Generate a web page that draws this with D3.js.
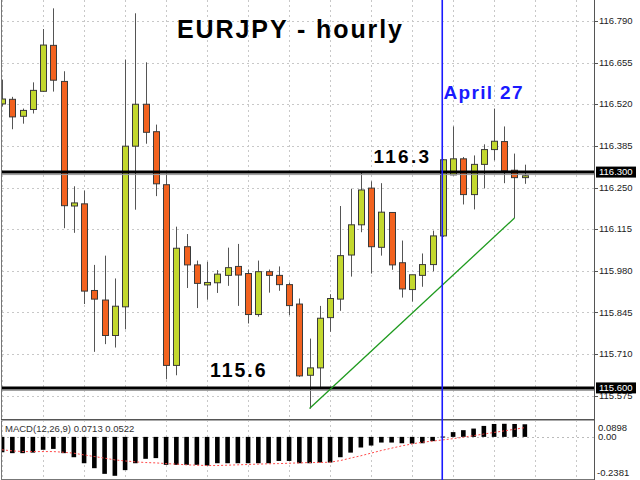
<!DOCTYPE html>
<html><head><meta charset="utf-8">
<script src="https://cdn.jsdelivr.net/npm/d3@7"></script>
<style>html,body{margin:0;padding:0;background:#fff;}svg{display:block;}</style>
</head><body>
<script>
// ---- data ----
const openP  = [116.521,116.536,116.481,116.503,116.562,116.711,116.594,116.190,116.197,115.916,115.885,115.770,115.863,116.384,116.520,116.431,116.259,115.673,116.058,115.999,115.934,115.941,115.965,115.994,115.971,115.838,115.977,115.965,115.935,115.872,115.641,115.665,115.828,115.888,116.031,116.129,116.248,116.056,116.169,116.006,115.919,115.965,116.000,116.093,116.291,116.343,116.227,116.325,116.373,116.399,116.306,116.282];
const highP  = [116.600,116.544,116.506,116.591,116.764,116.831,116.627,116.254,116.240,115.999,116.029,115.955,116.665,116.815,116.656,116.454,116.295,116.123,116.099,116.013,116.009,115.982,116.055,116.067,115.984,116.013,115.984,115.994,115.942,115.890,115.760,115.866,115.904,116.190,116.246,116.298,116.270,116.264,116.170,116.078,115.967,116.036,116.110,116.342,116.448,116.349,116.354,116.390,116.506,116.448,116.360,116.324];
const lowP   = [116.513,116.439,116.457,116.490,116.560,116.561,116.118,116.103,115.872,115.717,115.742,115.731,115.790,116.178,116.392,116.222,115.628,115.641,115.924,115.859,115.886,115.908,115.931,115.866,115.809,115.831,115.909,115.915,115.836,115.636,115.533,115.597,115.782,115.850,115.961,116.105,115.971,116.029,115.983,115.893,115.880,115.928,115.978,116.090,116.290,116.195,116.179,116.247,116.338,116.264,116.151,116.262];
const closeP = [116.537,116.479,116.500,116.565,116.712,116.598,116.191,116.200,115.914,115.888,115.770,115.865,116.384,116.520,116.429,116.262,115.673,116.053,115.999,115.939,115.942,115.969,115.990,115.966,115.838,115.977,115.965,115.935,115.867,115.639,115.665,115.826,115.890,116.029,116.129,116.242,116.058,116.170,115.999,115.921,115.967,116.000,116.093,116.340,116.343,116.227,116.325,116.373,116.400,116.304,116.282,116.288];
const macdMain = [-0.087,-0.092,-0.092,-0.089,-0.073,-0.068,-0.092,-0.115,-0.149,-0.177,-0.209,-0.220,-0.188,-0.149,-0.124,-0.120,-0.158,-0.158,-0.158,-0.158,-0.162,-0.149,-0.149,-0.149,-0.149,-0.149,-0.149,-0.136,-0.136,-0.149,-0.149,-0.145,-0.145,-0.115,-0.089,-0.060,-0.049,-0.032,-0.032,-0.036,-0.038,-0.036,-0.024,0.002,0.027,0.038,0.047,0.062,0.073,0.074,0.073,0.0713];
const macdSignal = [-0.073,-0.079,-0.083,-0.083,-0.083,-0.083,-0.087,-0.092,-0.102,-0.111,-0.120,-0.130,-0.136,-0.141,-0.145,-0.147,-0.151,-0.154,-0.158,-0.160,-0.162,-0.162,-0.160,-0.158,-0.156,-0.154,-0.152,-0.151,-0.149,-0.147,-0.145,-0.145,-0.143,-0.134,-0.120,-0.107,-0.092,-0.077,-0.064,-0.051,-0.040,-0.030,-0.024,-0.017,-0.010,-0.002,0.007,0.016,0.025,0.034,0.043,0.0522];
const priceTicks = [116.790,116.655,116.520,116.385,116.250,116.115,115.980,115.845,115.710,115.575];
const levelLines = [116.300,115.600];
const levelTexts = ["116.3","115.6"];
const trendIdx = [30,50];
const trendVal = [115.533,116.151];
const markerIdx = 43;
const macdTicks = [0.0898,0.00,-0.2381];
const macdTickLabels = ["0.0898","0.00","-0.2381"];
const title = "EURJPY - hourly";
const markerText = "April 27";
const macdLabel = "MACD(12,26,9) 0.0713 0.0522";

// ---- layout ----
const W=640,H=480, plotL=2, plotR=594, mainTop=0, mainBot=419, macdTop=421, macdBot=479;
const svg=d3.select("body").append("svg").attr("width",W).attr("height",H);
svg.append("rect").attr("width",W).attr("height",H).attr("fill","#fff");
svg.append("defs").append("clipPath").attr("id","clipMain").append("rect")
  .attr("x",plotL).attr("y",mainTop).attr("width",plotR-plotL).attr("height",mainBot-mainTop);
svg.select("defs").append("clipPath").attr("id","clipMacd").append("rect")
  .attr("x",plotL).attr("y",macdTop).attr("width",plotR-plotL).attr("height",macdBot-macdTop);

const x=d3.scaleLinear().domain([0,51]).range([2,524.75]);
const y=d3.scaleLinear().domain([115.710,116.790]).range([354,21]);
const ym=d3.scaleLinear().domain([-0.2381,0.0898]).range([macdBot,macdTop]);

const main=svg.append("g").attr("clip-path","url(#clipMain)");
const macdG=svg.append("g").attr("clip-path","url(#clipMacd)");
const gridColor="#c8c8c8";
const vgrid=d3.range(0,58,4);
// grids
main.selectAll("line.hg").data(priceTicks).join("line").attr("x1",plotL).attr("x2",plotR)
  .attr("y1",d=>Math.round(y(d))+0.5).attr("y2",d=>Math.round(y(d))+0.5)
  .attr("stroke",gridColor).attr("stroke-dasharray","2,3");
[main,macdG].forEach(g=>g.selectAll("line.vg").data(vgrid).join("line")
  .attr("x1",d=>Math.round(x(d))+0.5).attr("x2",d=>Math.round(x(d))+0.5)
  .attr("y1",0).attr("y2",H).attr("stroke",gridColor).attr("stroke-dasharray","2,3"));
macdG.append("line").attr("x1",plotL).attr("x2",plotR).attr("y1",Math.round(ym(0))+0.5).attr("y2",Math.round(ym(0))+0.5)
  .attr("stroke","#bbb").attr("stroke-dasharray","2,3");

// candles
const idx=d3.range(openP.length);
main.selectAll("line.wick").data(idx).join("line")
  .attr("x1",i=>Math.round(x(i))+0.5).attr("x2",i=>Math.round(x(i))+0.5)
  .attr("y1",i=>y(highP[i])).attr("y2",i=>y(lowP[i]))
  .attr("stroke","#555").attr("stroke-width",1);
main.selectAll("rect.body").data(idx).join("rect")
  .attr("x",i=>Math.round(x(i))-2.5).attr("width",6)
  .attr("y",i=>y(Math.max(openP[i],closeP[i])))
  .attr("height",i=>Math.max(1.5,Math.abs(y(openP[i])-y(closeP[i]))))
  .attr("fill",i=>closeP[i]>=openP[i]?"#c3d82e":"#f2621f")
  .attr("stroke","#3a3a3a").attr("stroke-width",1);

// level lines
levelLines.forEach(v=>{
  main.append("line").attr("x1",0).attr("x2",plotR).attr("y1",y(v)+2.5).attr("y2",y(v)+2.5)
    .attr("stroke","#999").attr("stroke-width",1);
  main.append("line").attr("x1",0).attr("x2",plotR).attr("y1",y(v)).attr("y2",y(v))
    .attr("stroke","#000").attr("stroke-width",3);
});
// trend line
main.append("line").attr("x1",x(trendIdx[0])).attr("y1",y(trendVal[0]))
  .attr("x2",x(trendIdx[1])).attr("y2",y(trendVal[1]))
  .attr("stroke","#1e9a1e").attr("stroke-width",1.3);

// MACD bars
macdG.selectAll("rect.mb").data(idx).join("rect")
  .attr("x",i=>x(i)-2.2).attr("width",4.6)
  .attr("y",i=>Math.min(ym(0),ym(macdMain[i])))
  .attr("height",i=>Math.max(1,Math.abs(ym(macdMain[i])-ym(0))))
  .attr("fill","#000");
macdG.append("path").datum(idx)
  .attr("d",d3.line().x(i=>x(i)).y(i=>ym(macdSignal[i])))
  .attr("fill","none").attr("stroke","#ff4a4a").attr("stroke-width",1).attr("stroke-dasharray","2,2");

// borders
svg.append("line").attr("x1",1.5).attr("x2",1.5).attr("y1",0).attr("y2",H).attr("stroke","#777");
svg.append("line").attr("x1",plotR+0.5).attr("x2",plotR+0.5).attr("y1",0).attr("y2",H).attr("stroke","#555");
svg.append("line").attr("x1",1).attr("x2",plotR).attr("y1",419.5).attr("y2",419.5).attr("stroke","#555");
svg.append("line").attr("x1",1).attr("x2",plotR).attr("y1",420.5).attr("y2",420.5).attr("stroke","#aaa");
svg.append("line").attr("x1",1).attr("x2",plotR).attr("y1",479.5).attr("y2",479.5).attr("stroke","#777");

// marker blue line
svg.append("line").attr("x1",x(markerIdx)-0.5).attr("x2",x(markerIdx)-0.5).attr("y1",0).attr("y2",H)
  .attr("stroke","#1a1aff").attr("stroke-width",1.6);

// right axis
const ax=svg.append("g");
ax.selectAll("line.t").data(priceTicks).join("line").attr("x1",plotR).attr("x2",plotR+4)
  .attr("y1",d=>Math.round(y(d))+0.5).attr("y2",d=>Math.round(y(d))+0.5).attr("stroke","#555");
ax.selectAll("text.t").data(priceTicks).join("text").attr("x",599).attr("y",d=>y(d)+3.2)
  .attr("font-family","Liberation Sans, Arial, sans-serif").attr("font-size",9.5).attr("fill","#222")
  .text(d=>d.toFixed(3));
levelLines.forEach(v=>{
  ax.append("rect").attr("x",596).attr("y",y(v)-5.5).attr("width",40).attr("height",11).attr("fill","#000");
  ax.append("text").attr("x",599).attr("y",y(v)+3.4).attr("font-family","Liberation Sans, Arial, sans-serif")
    .attr("font-size",9.5).attr("fill","#fff").text(v.toFixed(3));
});
// macd axis
const macdLabelY=[ym(macdTicks[0])+9.5, ym(macdTicks[1])+3.3, ym(macdTicks[2])-3];
ax.selectAll("text.m").data(macdTicks).join("text").attr("x",(d,i)=>i===2?597:598).attr("y",(d,i)=>macdLabelY[i])
  .attr("font-family","Liberation Sans, Arial, sans-serif").attr("font-size",9.5).attr("fill","#222")
  .text((d,i)=>macdTickLabels[i]);
svg.append("text").attr("x",5).attr("y",431.5).attr("font-family","Liberation Sans, Arial, sans-serif")
  .attr("font-size",9.5).attr("fill","#333").text(macdLabel);

// annotations
const bold="Liberation Sans, Arial, Helvetica, sans-serif";
svg.append("text").attr("x",177).attr("y",38).attr("font-family",bold).attr("font-weight","bold")
  .attr("font-size",25).attr("textLength",225).attr("lengthAdjust","spacing").attr("fill","#000").text(title);
svg.append("text").attr("x",443.5).attr("y",98.5).attr("font-family",bold).attr("font-weight","bold")
  .attr("font-size",19).attr("textLength",79).attr("lengthAdjust","spacing").attr("fill","#1a1aff").text(markerText);
svg.append("text").attr("x",373.5).attr("y",y(levelLines[0])-8.6).attr("font-family",bold).attr("font-weight","bold")
  .attr("font-size",19).attr("textLength",55.5).attr("lengthAdjust","spacing").attr("fill","#000").text(levelTexts[0]);
svg.append("text").attr("x",210).attr("y",y(levelLines[1])-10.8).attr("font-family",bold).attr("font-weight","bold")
  .attr("font-size",19.5).attr("textLength",55.5).attr("lengthAdjust","spacing").attr("fill","#000").text(levelTexts[1]);
</script>
</body></html>
